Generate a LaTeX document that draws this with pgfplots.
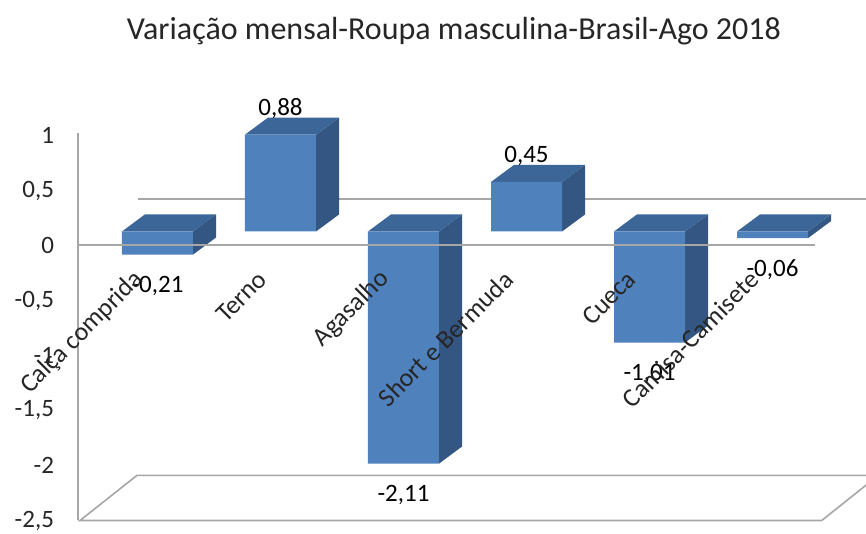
\documentclass[border=0pt]{standalone}
\usepackage{pgfplots}
\pgfplotsset{compat=1.18}
\usepackage{fontspec}
\setmainfont{Carlito}
\definecolor{frontc}{HTML}{4F81BD}
\definecolor{topc}{HTML}{3D6698}
\definecolor{sidec}{HTML}{335682}
\definecolor{gridc}{HTML}{A6A6A6}
\definecolor{txt}{HTML}{262626}
\newcommand{\lblfont}{\fontsize{12.5}{14}\selectfont}
\begin{document}
\begin{tikzpicture}
\begin{axis}[
  set layers=axis on top,
  scale only axis, width=394pt, height=193.6pt,
  xmin=-0.646, xmax=5.76, ymin=-2.5, ymax=1.02,
  axis x line*=middle, axis y line*=left,
  x axis line style={draw=none},
  y axis line style={draw=gridc, line width=1pt},
  major tick length=0pt,
  hide obscured x ticks=false, hide obscured y ticks=false,
  xtick={0,1,2,3,4,5},
  xticklabels={Calça comprida, Terno, Agasalho, Short e Bermuda, Cueca, Camisa-Camisete},
  xticklabel style={xshift=-6.5pt, yshift=-12.5pt, rotate=45, anchor=east, font=\fontsize{13}{15}\selectfont, text=txt},
  ytick={-2.5,-2,-1.5,-1,-0.5,0,0.5,1},
  yticklabel style={font=\lblfont, text=txt, xshift=-8.5pt},
  /pgf/number format/use comma,
  /pgf/number format/1000 sep={},
  /pgf/number format/assume math mode=true,
  clip=false,
  title={Variação mensal-Roupa masculina-Brasil-Ago 2018},
  title style={at={(axis description cs:0.477,1.212)}, anchor=base, font=\fontsize{16}{18}\selectfont, text=txt},
]
% back wall zero line
\addplot[gridc, line width=1pt] coordinates {(-0.159,0.423) (5.9,0.423)};
% floor
\addplot[fill=white, draw=gridc, line width=0.8pt] coordinates {(-0.63,-2.5) (5.40,-2.5) (5.86,-2.09) (-0.167,-2.09)} -- cycle;
% side faces
\addplot[fill=sidec, draw=none, yshift=7pt] coordinates {(0.289,-0.21) (0.289,0) (0.476,0.155) (0.476,-0.055)} -- cycle;
\addplot[fill=sidec, draw=none, yshift=7pt] coordinates {(1.289,0) (1.289,0.88) (1.476,1.035) (1.476,0.155)} -- cycle;
\addplot[fill=sidec, draw=none, yshift=7pt] coordinates {(2.289,-2.11) (2.289,0) (2.476,0.155) (2.476,-1.955)} -- cycle;
\addplot[fill=sidec, draw=none, yshift=7pt] coordinates {(3.289,0) (3.289,0.45) (3.476,0.605) (3.476,0.155)} -- cycle;
\addplot[fill=sidec, draw=none, yshift=7pt] coordinates {(4.289,-1.01) (4.289,0) (4.476,0.155) (4.476,-0.855)} -- cycle;
\addplot[fill=sidec, draw=none, yshift=7pt] coordinates {(5.289,-0.06) (5.289,0) (5.476,0.155) (5.476,0.095)} -- cycle;
% top faces
\addplot[fill=topc, draw=none, yshift=7pt] coordinates {(-0.289,0) (0.289,0) (0.476,0.155) (-0.102,0.155)} -- cycle;
\addplot[fill=topc, draw=none, yshift=7pt] coordinates {(0.711,0.88) (1.289,0.88) (1.476,1.035) (0.898,1.035)} -- cycle;
\addplot[fill=topc, draw=none, yshift=7pt] coordinates {(1.711,0) (2.289,0) (2.476,0.155) (1.898,0.155)} -- cycle;
\addplot[fill=topc, draw=none, yshift=7pt] coordinates {(2.711,0.45) (3.289,0.45) (3.476,0.605) (2.898,0.605)} -- cycle;
\addplot[fill=topc, draw=none, yshift=7pt] coordinates {(3.711,0) (4.289,0) (4.476,0.155) (3.898,0.155)} -- cycle;
\addplot[fill=topc, draw=none, yshift=7pt] coordinates {(4.711,0) (5.289,0) (5.476,0.155) (4.898,0.155)} -- cycle;
% front faces
\addplot[ybar, bar width=35.5pt, bar shift=0pt, fill=frontc, draw=none, yshift=7pt,
  nodes near coords={\pgfmathprintnumber[fixed,fixed zerofill,precision=2,use comma,assume math mode=true]{\pgfplotspointmeta}},
  every node near coord/.append style={font=\lblfont, text=black, inner ysep=8pt}]
  coordinates {(1,0.88) (3,0.45)};
\addplot[ybar, bar width=35.5pt, bar shift=0pt, fill=frontc, draw=none, yshift=7pt,
  nodes near coords={\pgfmathprintnumber[fixed,fixed zerofill,precision=2,use comma,assume math mode=true]{\pgfplotspointmeta}},
  every node near coord/.append style={font=\lblfont, text=black, inner ysep=10.4pt}]
  coordinates {(0,-0.21) (2,-2.11) (4,-1.01) (5,-0.06)};
% front zero line
\addplot[gridc, line width=1pt] coordinates {(-0.646,0) (5.345,0)};
\end{axis}
\pgfresetboundingbox
\path[use as bounding box] (-39pt,-6.75pt) rectangle (394pt,260.25pt);
\end{tikzpicture}
\end{document}
